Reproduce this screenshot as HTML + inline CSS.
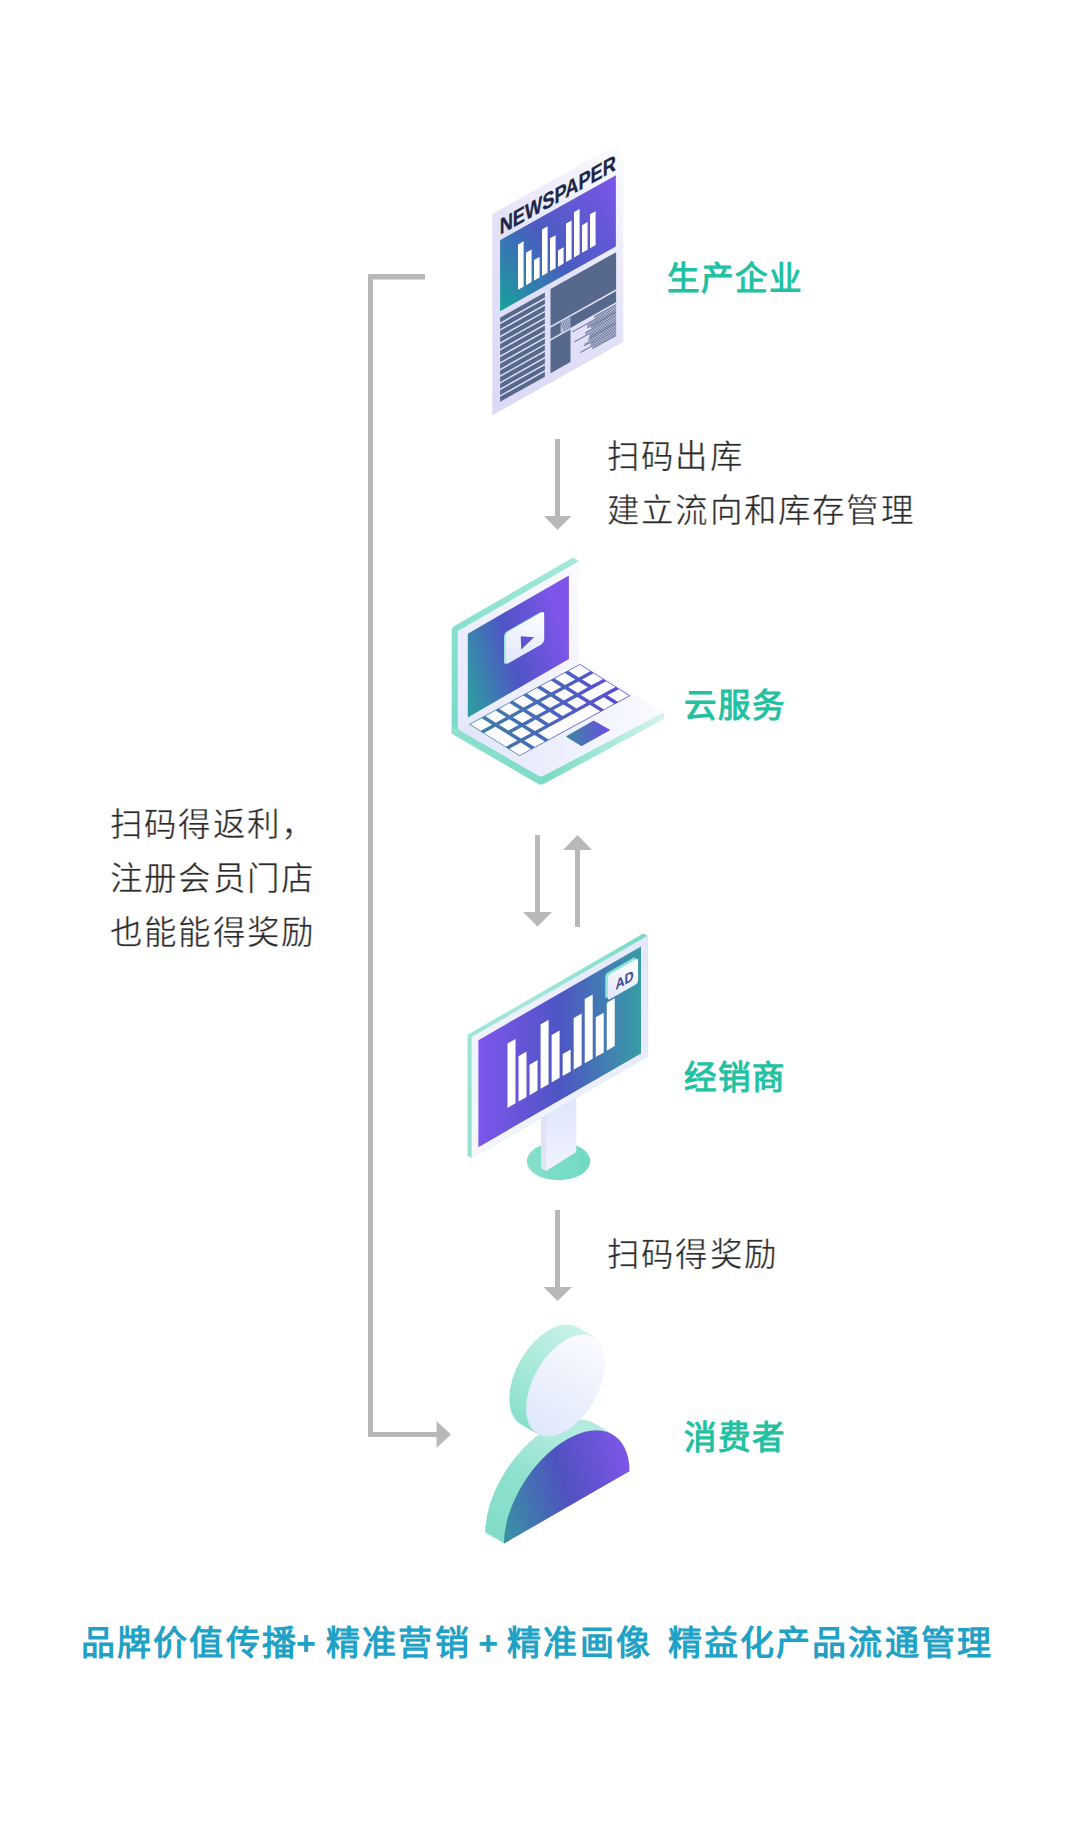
<!DOCTYPE html>
<html lang="zh-CN">
<head>
<meta charset="utf-8">
<style>
html,body{margin:0;padding:0;background:#fff;}
body{width:1074px;height:1825px;position:relative;overflow:hidden;font-family:"Liberation Sans",sans-serif;}
.t{position:absolute;white-space:nowrap;font-size:32.5px;line-height:54px;color:#2b2b2b;letter-spacing:1.2px;-webkit-text-stroke:0.4px #fff;}
.lbl{position:absolute;white-space:nowrap;font-size:32.5px;line-height:40px;color:#22c1a1;font-weight:700;letter-spacing:0.9px;}
.bt{position:absolute;white-space:nowrap;font-size:34px;line-height:40px;color:#1fa2c6;font-weight:700;}
svg{position:absolute;left:0;top:0;}
</style>
</head>
<body>
<svg width="1074" height="1825" viewBox="0 0 1074 1825">
<defs>
 <linearGradient id="npPaper" x1="0" y1="1" x2="1" y2="0">
  <stop offset="0" stop-color="#dcd8f6"/><stop offset="0.5" stop-color="#e3e1f8"/><stop offset="0.85" stop-color="#f6f5fd"/><stop offset="1" stop-color="#ffffff"/>
 </linearGradient>
 <linearGradient id="npBlock" gradientUnits="userSpaceOnUse" x1="7.8" y1="101.6" x2="123.6" y2="30.5">
  <stop offset="0" stop-color="#17a39b"/><stop offset="0.45" stop-color="#4a5cc0"/><stop offset="1" stop-color="#7c55ea"/>
 </linearGradient>
 <linearGradient id="scrL" gradientUnits="userSpaceOnUse" x1="467" y1="690" x2="569" y2="662">
  <stop offset="0" stop-color="#2f9aa2"/><stop offset="0.5" stop-color="#4f54c6"/><stop offset="1" stop-color="#7d55e8"/>
 </linearGradient>
 <linearGradient id="scrM" x1="0" y1="0" x2="1" y2="0">
  <stop offset="0" stop-color="#7f55ec"/><stop offset="0.5" stop-color="#4e55c4"/><stop offset="1" stop-color="#389ca4"/>
 </linearGradient>
 <linearGradient id="tealL" x1="0" y1="1" x2="1" y2="0">
  <stop offset="0" stop-color="#78dcc6"/><stop offset="1" stop-color="#a6e9dc"/>
 </linearGradient>
 <linearGradient id="baseTop" x1="0" y1="0" x2="1" y2="0">
  <stop offset="0" stop-color="#e2e4fb"/><stop offset="1" stop-color="#fafbff"/>
 </linearGradient>
 <linearGradient id="lidFace" x1="0" y1="1" x2="1" y2="0">
  <stop offset="0" stop-color="#e6e8fc"/><stop offset="1" stop-color="#fbfbff"/>
 </linearGradient>
 <linearGradient id="kbGap" x1="0" y1="0" x2="1" y2="0">
  <stop offset="0" stop-color="#3a83a2"/><stop offset="1" stop-color="#5a48d6"/>
 </linearGradient>
 <linearGradient id="pad" x1="0" y1="0" x2="1" y2="0">
  <stop offset="0" stop-color="#3b86a0"/><stop offset="1" stop-color="#6a4ee2"/>
 </linearGradient>
 <linearGradient id="card" x1="0" y1="1" x2="1" y2="0">
  <stop offset="0" stop-color="#dfe6fb"/><stop offset="1" stop-color="#ffffff"/>
 </linearGradient>
 <linearGradient id="tri" x1="0" y1="1" x2="1" y2="0">
  <stop offset="0" stop-color="#4a58b8"/><stop offset="1" stop-color="#7a50ee"/>
 </linearGradient>
 <linearGradient id="body" gradientUnits="userSpaceOnUse" x1="-65" y1="0" x2="62" y2="-37">
  <stop offset="0" stop-color="#3a8ea6"/><stop offset="0.5" stop-color="#4f52c0"/><stop offset="1" stop-color="#7d55e6"/>
 </linearGradient>
 <linearGradient id="headFace" x1="0" y1="1" x2="1" y2="0">
  <stop offset="0" stop-color="#d9e3fa"/><stop offset="1" stop-color="#ffffff"/>
 </linearGradient>
 <linearGradient id="neck" x1="0" y1="1" x2="0" y2="0">
  <stop offset="0" stop-color="#f0f3fe"/><stop offset="1" stop-color="#d8e2fb"/>
 </linearGradient>

 <linearGradient id="tealR" gradientUnits="userSpaceOnUse" x1="451" y1="0" x2="664" y2="0">
  <stop offset="0" stop-color="#8ee0cf"/><stop offset="0.4" stop-color="#80dcc8"/><stop offset="0.45" stop-color="#7adbc5"/><stop offset="1" stop-color="#d6f4ed"/>
 </linearGradient>
 <linearGradient id="tealM" x1="0" y1="1" x2="1" y2="0">
  <stop offset="0" stop-color="#90e2d2"/><stop offset="0.5" stop-color="#a6e7da"/><stop offset="1" stop-color="#76dcc4"/>
 </linearGradient>
 <linearGradient id="monFace" x1="0" y1="1" x2="1" y2="0">
  <stop offset="0" stop-color="#f6f8fe"/><stop offset="1" stop-color="#e4e7fb"/>
 </linearGradient>
 <linearGradient id="standBase" x1="0" y1="0" x2="1" y2="0">
  <stop offset="0" stop-color="#86dfcc"/><stop offset="1" stop-color="#6fdac3"/>
 </linearGradient>
 <linearGradient id="headSide" x1="0" y1="1" x2="1" y2="0">
  <stop offset="0" stop-color="#7cdcc6"/><stop offset="1" stop-color="#d6f5ee"/>
 </linearGradient>
 <linearGradient id="bodySide" x1="0" y1="1" x2="0.7" y2="0">
  <stop offset="0" stop-color="#80dcc8"/><stop offset="0.6" stop-color="#8fe1cf"/><stop offset="1" stop-color="#b9ede2"/>
 </linearGradient>
</defs>

<!-- arrows -->
<g fill="#b8b8b8">
  <rect x="555" y="439" width="5" height="78"/>
  <polygon points="544,516 571.5,516 557.5,530"/>
  <rect x="535" y="835" width="5" height="78"/>
  <polygon points="523,912 552,912 537.5,926.5"/>
  <rect x="575" y="849" width="5" height="78"/>
  <polygon points="563,850 592,850 577.5,835"/>
  <rect x="555" y="1210" width="5" height="78"/>
  <polygon points="543.5,1287 572,1287 557.5,1301"/>
  <rect x="368" y="274" width="5" height="1163"/>
  <rect x="368" y="274" width="57" height="5.5"/>
  <rect x="368" y="1432" width="70" height="5"/>
  <polygon points="436.5,1421 436.5,1448 451,1434.5"/>
</g>

<!-- NEWSPAPER -->
<g id="np" transform="matrix(1,-0.56,0,1,492.3,214)">
<rect x="0" y="0" width="131" height="201.3" fill="url(#npPaper)"/>
<text x="7.4" y="25.2" font-family="Liberation Sans" font-weight="700" font-size="22.6" fill="#1b2745" stroke="#1b2745" stroke-width="0.25" textLength="116.2" lengthAdjust="spacingAndGlyphs">NEWSPAPER</text>
<rect x="7.8" y="30.5" width="115.8" height="71.1" fill="url(#npBlock)"/>
<rect x="25.7" y="44.86" width="5.6" height="45.3" fill="#fff"/>
<rect x="33.7" y="57.63" width="5.6" height="32.4" fill="#fff"/>
<rect x="41.7" y="69.39" width="5.6" height="20.5" fill="#fff"/>
<rect x="49.7" y="43.26" width="5.6" height="46.5" fill="#fff"/>
<rect x="57.7" y="56.62" width="5.6" height="33" fill="#fff"/>
<rect x="65.7" y="73.18" width="5.6" height="16.3" fill="#fff"/>
<rect x="73.7" y="50.85" width="5.6" height="38.5" fill="#fff"/>
<rect x="81.7" y="44.01" width="5.6" height="45.2" fill="#fff"/>
<rect x="89.7" y="61.48" width="5.6" height="27.6" fill="#fff"/>
<rect x="97.7" y="55.04" width="5.6" height="33.9" fill="#fff"/>
<rect x="7.8" y="108" width="44.8" height="4.9" fill="#56698d"/>
<rect x="7.8" y="114.6" width="44.8" height="4.9" fill="#56698d"/>
<rect x="7.8" y="121.2" width="44.8" height="4.9" fill="#56698d"/>
<rect x="7.8" y="127.8" width="44.8" height="4.9" fill="#56698d"/>
<rect x="7.8" y="134.4" width="44.8" height="4.9" fill="#56698d"/>
<rect x="7.8" y="141" width="44.8" height="4.9" fill="#56698d"/>
<rect x="7.8" y="147.6" width="44.8" height="4.9" fill="#56698d"/>
<rect x="7.8" y="154.2" width="44.8" height="4.9" fill="#56698d"/>
<rect x="7.8" y="160.8" width="44.8" height="4.9" fill="#56698d"/>
<rect x="7.8" y="167.4" width="44.8" height="4.9" fill="#56698d"/>
<rect x="7.8" y="174" width="44.8" height="4.9" fill="#56698d"/>
<rect x="7.8" y="180.6" width="44.8" height="4.9" fill="#56698d"/>
<rect x="7.8" y="187.2" width="44.8" height="4.9" fill="#56698d"/>
<rect x="58.2" y="107.5" width="65.6" height="37" fill="#56698d"/>
<rect x="58.2" y="146.4" width="65.6" height="11.2" fill="#56698d"/>
<rect x="68.3" y="146.4" width="9.9" height="11.2" fill="#b9bfd8"/>
<line x1="68.3" y1="146.4" x2="72.3" y2="157.6" stroke="#56698d" stroke-width="0.6"/>
<line x1="69.9" y1="146.4" x2="73.9" y2="157.6" stroke="#56698d" stroke-width="0.6"/>
<line x1="71.5" y1="146.4" x2="75.5" y2="157.6" stroke="#56698d" stroke-width="0.6"/>
<line x1="73.1" y1="146.4" x2="77.1" y2="157.6" stroke="#56698d" stroke-width="0.6"/>
<line x1="74.7" y1="146.4" x2="78.7" y2="157.6" stroke="#56698d" stroke-width="0.6"/>
<line x1="76.3" y1="146.4" x2="80.3" y2="157.6" stroke="#56698d" stroke-width="0.6"/>
<line x1="77.9" y1="146.4" x2="81.9" y2="157.6" stroke="#56698d" stroke-width="0.6"/>
<line x1="79.5" y1="146.4" x2="83.5" y2="157.6" stroke="#56698d" stroke-width="0.6"/>
<rect x="58.2" y="159.3" width="20" height="32.5" fill="#56698d"/>
<rect x="102" y="159.4" width="21.8" height="0.9" fill="#56698d"/>
<rect x="102" y="160.8" width="21.8" height="0.9" fill="#56698d"/>
<rect x="80" y="162.4" width="43.8" height="0.9" fill="#56698d"/>
<rect x="95" y="164" width="28.8" height="0.9" fill="#56698d"/>
<rect x="95" y="165.4" width="28.8" height="0.9" fill="#56698d"/>
<rect x="95" y="166.8" width="28.8" height="0.9" fill="#56698d"/>
<rect x="99" y="167.4" width="24.8" height="0.9" fill="#56698d"/>
<rect x="99" y="168.8" width="24.8" height="0.9" fill="#56698d"/>
<rect x="93" y="170.4" width="30.8" height="0.9" fill="#56698d"/>
<rect x="93" y="171.8" width="30.8" height="0.9" fill="#56698d"/>
<rect x="82" y="173.4" width="41.8" height="0.9" fill="#56698d"/>
<rect x="97" y="175" width="26.8" height="0.9" fill="#56698d"/>
<rect x="97" y="176.4" width="26.8" height="0.9" fill="#56698d"/>
<rect x="97" y="177.8" width="26.8" height="0.9" fill="#56698d"/>
<rect x="96" y="178.4" width="27.8" height="0.9" fill="#56698d"/>
<rect x="96" y="179.8" width="27.8" height="0.9" fill="#56698d"/>
<rect x="92" y="181.4" width="31.8" height="0.9" fill="#56698d"/>
<rect x="92" y="182.8" width="31.8" height="0.9" fill="#56698d"/>
<rect x="98" y="184.4" width="25.8" height="0.9" fill="#56698d"/>
<rect x="98" y="185.8" width="25.8" height="0.9" fill="#56698d"/>
<rect x="88" y="187.4" width="35.8" height="0.9" fill="#56698d"/>
<rect x="100" y="189" width="23.8" height="0.9" fill="#56698d"/>
<rect x="100" y="190.4" width="23.8" height="0.9" fill="#56698d"/>
</g>

<!-- LAPTOP -->
<g id="laptop">
<path d="M454.73,625.75 L572.9,557.6 L579,561.1 L579,666 L457.8,729 L451.7,733.6 L451.7,631 Q451.7,627.5 454.73,625.75 Z" fill="url(#tealL)"/>
<path d="M451.7,725.5 L457.8,729 L537.97,775.25 Q541,777 544.09,775.36 L664,712 L664,719 L544.08,783.84 Q541,785.5 537.97,783.75 L451.7,733.8 Z" fill="url(#tealR)"/>
<polygon points="457.8,631 579,561.1 579,666 457.8,729" fill="url(#lidFace)"/>
<polygon points="467.8,633.7 568.9,575.4 568.9,659.1 467.8,717.4" fill="url(#scrL)"/>
<path d="M457.8,729 L537.97,775.25 Q541,777 544.09,775.36 L664,712 L580.8,664 Z" fill="url(#baseTop)"/>
<polygon points="469.1,724.3 579.9,663.98 630.42,695.7 519.62,756.02" fill="url(#kbGap)"/>
<polygon points="470.42,724.32 481.78,718.14 492.14,724.64 480.78,730.82" fill="#fdfdff"/>
<polygon points="485.38,716.18 495.63,710.6 505.99,717.1 495.74,722.68" fill="#fdfdff"/>
<polygon points="499.23,708.64 509.48,703.06 519.84,709.56 509.59,715.14" fill="#fdfdff"/>
<polygon points="513.08,701.1 523.33,695.52 533.69,702.02 523.44,707.6" fill="#fdfdff"/>
<polygon points="526.93,693.56 537.18,687.98 547.54,694.48 537.29,700.06" fill="#fdfdff"/>
<polygon points="540.78,686.02 551.03,680.44 561.39,686.94 551.14,692.52" fill="#fdfdff"/>
<polygon points="554.63,678.48 564.88,672.9 575.24,679.4 564.99,684.98" fill="#fdfdff"/>
<polygon points="568.48,670.94 579.84,664.75 590.2,671.26 578.84,677.44" fill="#fdfdff"/>
<polygon points="484.06,732.88 495.42,726.7 517.4,740.5 506.04,746.68" fill="#fdfdff"/>
<polygon points="499.02,724.74 509.27,719.16 518.62,725.03 508.37,730.61" fill="#fdfdff"/>
<polygon points="512.87,717.2 523.12,711.62 532.47,717.49 522.22,723.07" fill="#fdfdff"/>
<polygon points="526.72,709.66 536.97,704.08 546.32,709.95 536.07,715.53" fill="#fdfdff"/>
<polygon points="540.57,702.12 550.82,696.54 560.17,702.41 549.92,707.99" fill="#fdfdff"/>
<polygon points="554.42,694.58 564.67,689 574.02,694.87 563.77,700.45" fill="#fdfdff"/>
<polygon points="568.27,687.04 578.52,681.46 587.87,687.33 577.62,692.91" fill="#fdfdff"/>
<polygon points="582.12,679.5 593.48,673.32 602.83,679.19 591.47,685.37" fill="#fdfdff"/>
<polygon points="511.65,732.67 521.9,727.09 531.25,732.96 521,738.54" fill="#fdfdff"/>
<polygon points="525.5,725.13 535.75,719.55 545.1,725.42 534.85,731" fill="#fdfdff"/>
<polygon points="539.35,717.59 549.6,712.01 558.95,717.88 548.7,723.46" fill="#fdfdff"/>
<polygon points="553.2,710.05 563.45,704.47 572.8,710.34 562.55,715.92" fill="#fdfdff"/>
<polygon points="567.05,702.51 577.3,696.93 586.65,702.8 576.4,708.38" fill="#fdfdff"/>
<polygon points="580.9,694.97 606.11,681.25 615.46,687.12 590.25,700.84" fill="#fdfdff"/>
<polygon points="509.32,748.74 520.68,742.56 531.04,749.06 519.68,755.25" fill="#fdfdff"/>
<polygon points="524.28,740.6 534.53,735.02 544.89,741.52 534.64,747.1" fill="#fdfdff"/>
<polygon points="538.13,733.06 589.93,704.86 600.29,711.36 548.49,739.56" fill="#fdfdff"/>
<polygon points="593.53,702.9 603.78,697.32 614.14,703.82 603.89,709.4" fill="#fdfdff"/>
<polygon points="607.38,695.36 618.74,689.18 629.1,695.68 617.74,701.86" fill="#fdfdff"/>
<polygon points="566.8,736.5 593.7,721.3 609.2,730 581.5,745.4" fill="url(#pad)" stroke="url(#pad)" stroke-width="1.2" stroke-linejoin="round"/>
<g transform="matrix(1,-0.577,0,1,505.9,633)"><rect x="-1.9" y="-1" width="38.3" height="31.8" rx="3" fill="#9fe6dc"/><rect x="0" y="0" width="38.3" height="31.8" rx="3" fill="url(#card)"/></g>
<polygon points="520.7,636.3 534.1,637.2 521.3,649.4" fill="url(#tri)"/>
</g>

<!-- MONITOR -->
<g id="monitor">
<ellipse cx="558.5" cy="1161.2" rx="31.7" ry="19" fill="url(#standBase)"/>
<polygon points="541,1090 576.2,1070 576.2,1151.9 546,1170.9 541,1167.5" fill="url(#neck)"/>
<polygon points="541,1090 546,1093 546,1170.9 541,1167.5" fill="#dfe3f7"/>
<polygon points="467.5,1034.87 643.3,933.43 647.5,935.63 647.5,1056.63 471.7,1158.07 467.5,1155.87" fill="url(#tealM)"/>
<polygon points="471.7,1037.07 647.5,935.63 647.5,1056.63 471.7,1158.07" fill="url(#monFace)"/>
<g transform="matrix(1,-0.577,0,1,478.4,1040.2)">
<rect x="0" y="0" width="162.6" height="107" fill="url(#scrM)"/>
<rect x="29.1" y="20.1" width="8" height="64.4" fill="#fff"/>
<rect x="40.13" y="39.1" width="8" height="45.4" fill="#fff"/>
<rect x="51.16" y="54" width="8" height="30.5" fill="#fff"/>
<rect x="62.19" y="20.1" width="8" height="64.4" fill="#fff"/>
<rect x="73.22" y="37.1" width="8" height="47.4" fill="#fff"/>
<rect x="84.25" y="62.5" width="8" height="22" fill="#fff"/>
<rect x="95.28" y="32.8" width="8" height="51.7" fill="#fff"/>
<rect x="106.31" y="20.2" width="8" height="64.3" fill="#fff"/>
<rect x="117.34" y="44.8" width="8" height="39.7" fill="#fff"/>
<rect x="128.37" y="36.7" width="8" height="47.8" fill="#fff"/>
<rect x="126.8" y="6.9" width="30.3" height="25" rx="2.5" fill="#8fe3d6"/>
<rect x="129.4" y="9.9" width="30.3" height="25" rx="2.5" fill="url(#card)"/>
<text x="137" y="29" font-family="Liberation Sans" font-weight="700" font-size="14.5" fill="#414a8e" textLength="18.2" lengthAdjust="spacingAndGlyphs">AD</text>
</g>
</g>

<!-- PERSON -->
<g id="person">
<path transform="matrix(0.866,-0.5,0,1,548,1496.6)" d="M-72.5,0 A72.5,68 0 0 1 72.5,0 Z" fill="url(#bodySide)"/>
<path transform="matrix(0.866,-0.5,0,1,548.78,1497.05)" d="M-72.5,0 A72.5,68 0 0 1 72.5,0 Z" fill="url(#bodySide)"/>
<path transform="matrix(0.866,-0.5,0,1,549.56,1497.5)" d="M-72.5,0 A72.5,68 0 0 1 72.5,0 Z" fill="url(#bodySide)"/>
<path transform="matrix(0.866,-0.5,0,1,550.34,1497.95)" d="M-72.5,0 A72.5,68 0 0 1 72.5,0 Z" fill="url(#bodySide)"/>
<path transform="matrix(0.866,-0.5,0,1,551.12,1498.4)" d="M-72.5,0 A72.5,68 0 0 1 72.5,0 Z" fill="url(#bodySide)"/>
<path transform="matrix(0.866,-0.5,0,1,551.9,1498.85)" d="M-72.5,0 A72.5,68 0 0 1 72.5,0 Z" fill="url(#bodySide)"/>
<path transform="matrix(0.866,-0.5,0,1,552.68,1499.3)" d="M-72.5,0 A72.5,68 0 0 1 72.5,0 Z" fill="url(#bodySide)"/>
<path transform="matrix(0.866,-0.5,0,1,553.45,1499.75)" d="M-72.5,0 A72.5,68 0 0 1 72.5,0 Z" fill="url(#bodySide)"/>
<path transform="matrix(0.866,-0.5,0,1,554.23,1500.2)" d="M-72.5,0 A72.5,68 0 0 1 72.5,0 Z" fill="url(#bodySide)"/>
<path transform="matrix(0.866,-0.5,0,1,555.01,1500.65)" d="M-72.5,0 A72.5,68 0 0 1 72.5,0 Z" fill="url(#bodySide)"/>
<path transform="matrix(0.866,-0.5,0,1,555.79,1501.1)" d="M-72.5,0 A72.5,68 0 0 1 72.5,0 Z" fill="url(#bodySide)"/>
<path transform="matrix(0.866,-0.5,0,1,556.57,1501.55)" d="M-72.5,0 A72.5,68 0 0 1 72.5,0 Z" fill="url(#bodySide)"/>
<path transform="matrix(0.866,-0.5,0,1,557.35,1502)" d="M-72.5,0 A72.5,68 0 0 1 72.5,0 Z" fill="url(#bodySide)"/>
<path transform="matrix(0.866,-0.5,0,1,558.13,1502.45)" d="M-72.5,0 A72.5,68 0 0 1 72.5,0 Z" fill="url(#bodySide)"/>
<path transform="matrix(0.866,-0.5,0,1,558.91,1502.9)" d="M-72.5,0 A72.5,68 0 0 1 72.5,0 Z" fill="url(#bodySide)"/>
<path transform="matrix(0.866,-0.5,0,1,559.69,1503.35)" d="M-72.5,0 A72.5,68 0 0 1 72.5,0 Z" fill="url(#bodySide)"/>
<path transform="matrix(0.866,-0.5,0,1,560.47,1503.8)" d="M-72.5,0 A72.5,68 0 0 1 72.5,0 Z" fill="url(#bodySide)"/>
<path transform="matrix(0.866,-0.5,0,1,561.25,1504.25)" d="M-72.5,0 A72.5,68 0 0 1 72.5,0 Z" fill="url(#bodySide)"/>
<path transform="matrix(0.866,-0.5,0,1,562.03,1504.7)" d="M-72.5,0 A72.5,68 0 0 1 72.5,0 Z" fill="url(#bodySide)"/>
<path transform="matrix(0.866,-0.5,0,1,562.8,1505.15)" d="M-72.5,0 A72.5,68 0 0 1 72.5,0 Z" fill="url(#bodySide)"/>
<path transform="matrix(0.866,-0.5,0,1,563.58,1505.6)" d="M-72.5,0 A72.5,68 0 0 1 72.5,0 Z" fill="url(#bodySide)"/>
<path transform="matrix(0.866,-0.5,0,1,564.36,1506.05)" d="M-72.5,0 A72.5,68 0 0 1 72.5,0 Z" fill="url(#bodySide)"/>
<path transform="matrix(0.866,-0.5,0,1,565.14,1506.5)" d="M-72.5,0 A72.5,68 0 0 1 72.5,0 Z" fill="url(#bodySide)"/>
<path transform="matrix(0.866,-0.5,0,1,565.92,1506.95)" d="M-72.5,0 A72.5,68 0 0 1 72.5,0 Z" fill="url(#bodySide)"/>
<path transform="matrix(0.866,-0.5,0,1,566.7,1507.4)" d="M-72.5,0 A72.5,68 0 0 1 72.5,0 Z" fill="url(#body)"/>
<circle transform="matrix(0.866,-0.5,0,1,548.9,1375.7)" r="45.7" fill="url(#headSide)"/>
<circle transform="matrix(0.866,-0.5,0,1,549.6,1376.1)" r="45.7" fill="url(#headSide)"/>
<circle transform="matrix(0.866,-0.5,0,1,550.3,1376.51)" r="45.7" fill="url(#headSide)"/>
<circle transform="matrix(0.866,-0.5,0,1,551,1376.91)" r="45.7" fill="url(#headSide)"/>
<circle transform="matrix(0.866,-0.5,0,1,551.7,1377.32)" r="45.7" fill="url(#headSide)"/>
<circle transform="matrix(0.866,-0.5,0,1,552.4,1377.72)" r="45.7" fill="url(#headSide)"/>
<circle transform="matrix(0.866,-0.5,0,1,553.1,1378.12)" r="45.7" fill="url(#headSide)"/>
<circle transform="matrix(0.866,-0.5,0,1,553.8,1378.53)" r="45.7" fill="url(#headSide)"/>
<circle transform="matrix(0.866,-0.5,0,1,554.5,1378.93)" r="45.7" fill="url(#headSide)"/>
<circle transform="matrix(0.866,-0.5,0,1,555.2,1379.34)" r="45.7" fill="url(#headSide)"/>
<circle transform="matrix(0.866,-0.5,0,1,555.9,1379.74)" r="45.7" fill="url(#headSide)"/>
<circle transform="matrix(0.866,-0.5,0,1,556.6,1380.15)" r="45.7" fill="url(#headSide)"/>
<circle transform="matrix(0.866,-0.5,0,1,557.3,1380.55)" r="45.7" fill="url(#headSide)"/>
<circle transform="matrix(0.866,-0.5,0,1,558,1380.95)" r="45.7" fill="url(#headSide)"/>
<circle transform="matrix(0.866,-0.5,0,1,558.7,1381.36)" r="45.7" fill="url(#headSide)"/>
<circle transform="matrix(0.866,-0.5,0,1,559.4,1381.76)" r="45.7" fill="url(#headSide)"/>
<circle transform="matrix(0.866,-0.5,0,1,560.1,1382.17)" r="45.7" fill="url(#headSide)"/>
<circle transform="matrix(0.866,-0.5,0,1,560.8,1382.57)" r="45.7" fill="url(#headSide)"/>
<circle transform="matrix(0.866,-0.5,0,1,561.5,1382.98)" r="45.7" fill="url(#headSide)"/>
<circle transform="matrix(0.866,-0.5,0,1,562.2,1383.38)" r="45.7" fill="url(#headSide)"/>
<circle transform="matrix(0.866,-0.5,0,1,562.9,1383.78)" r="45.7" fill="url(#headSide)"/>
<circle transform="matrix(0.866,-0.5,0,1,563.6,1384.19)" r="45.7" fill="url(#headSide)"/>
<circle transform="matrix(0.866,-0.5,0,1,564.3,1384.59)" r="45.7" fill="url(#headSide)"/>
<circle transform="matrix(0.866,-0.5,0,1,565,1385)" r="45.7" fill="url(#headSide)"/>
<circle transform="matrix(0.866,-0.5,0,1,565.7,1385.4)" r="45.7" fill="url(#headFace)"/>
</g>
</svg>
<div class="t" style="left:607px;top:430px;">扫码出库<br>建立流向和库存管理</div>
<div class="t" style="left:110px;top:798px;">扫码得返利，<br>注册会员门店<br>也能能得奖励</div>
<div class="t" style="left:607px;top:1228px;">扫码得奖励</div>
<div class="lbl" style="left:667px;top:259px;">生产企业</div>
<div class="lbl" style="left:684px;top:686px;">云服务</div>
<div class="lbl" style="left:684px;top:1058px;">经销商</div>
<div class="lbl" style="left:684px;top:1418px;">消费者</div>
<div class="bt" style="left:81px;top:1623px;letter-spacing:2.16px;">品牌价值传播</div>
<div class="bt" style="left:296px;top:1623px;">+</div>
<div class="bt" style="left:326px;top:1623px;letter-spacing:2.17px;">精准营销</div>
<div class="bt" style="left:478.3px;top:1623px;">+</div>
<div class="bt" style="left:507px;top:1623px;letter-spacing:2.3px;">精准画像</div>
<div class="bt" style="left:667.5px;top:1623px;letter-spacing:2.2px;">精益化产品流通管理</div>
</body>
</html>
